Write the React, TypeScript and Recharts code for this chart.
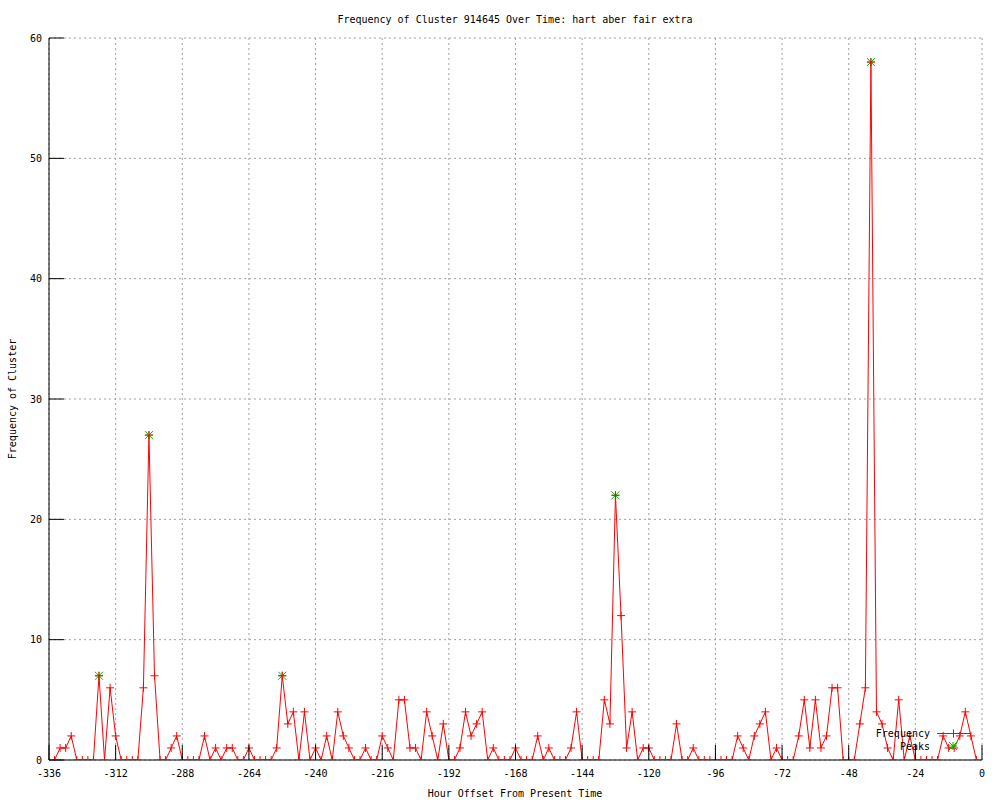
import { ComposedChart, Line, XAxis, YAxis, CartesianGrid, Legend } from "recharts";

// hour offsets of the 2-hour bins
const hourOffsets = [
  -334, -332, -330, -328, -326, -324, -322, -320, -318, -316, -314, -312,
  -310, -308, -306, -304, -302, -300, -298, -296, -294, -292, -290, -288,
  -286, -284, -282, -280, -278, -276, -274, -272, -270, -268, -266, -264,
  -262, -260, -258, -256, -254, -252, -250, -248, -246, -244, -242, -240,
  -238, -236, -234, -232, -230, -228, -226, -224, -222, -220, -218, -216,
  -214, -212, -210, -208, -206, -204, -202, -200, -198, -196, -194, -192,
  -190, -188, -186, -184, -182, -180, -178, -176, -174, -172, -170, -168,
  -166, -164, -162, -160, -158, -156, -154, -152, -150, -148, -146, -144,
  -142, -140, -138, -136, -134, -132, -130, -128, -126, -124, -122, -120,
  -118, -116, -114, -112, -110, -108, -106, -104, -102, -100, -98, -96,
  -94, -92, -90, -88, -86, -84, -82, -80, -78, -76, -74, -72,
  -70, -68, -66, -64, -62, -60, -58, -56, -54, -52, -50, -48,
  -46, -44, -42, -40, -38, -36, -34, -32, -30, -28, -26, -24,
  -22, -20, -18, -16, -14, -12, -10, -8, -6, -4, -2,
];

const frequencies = [
  0, 1, 1, 2, 0, 0, 0, 0, 7, 0, 6, 2,
  0, 0, 0, 0, 6, 27, 7, 0, 0, 1, 2, 0,
  0, 0, 0, 2, 0, 1, 0, 1, 1, 0, 0, 1,
  0, 0, 0, 0, 1, 7, 3, 4, 0, 4, 0, 1,
  0, 2, 0, 4, 2, 1, 0, 0, 1, 0, 0, 2,
  1, 0, 5, 5, 1, 1, 0, 4, 2, 0, 3, 0,
  0, 1, 4, 2, 3, 4, 0, 1, 0, 0, 0, 1,
  0, 0, 0, 2, 0, 1, 0, 0, 0, 1, 4, 0,
  0, 0, 0, 5, 3, 22, 12, 1, 4, 0, 1, 1,
  0, 0, 0, 0, 3, 0, 0, 1, 0, 0, 0, 0,
  0, 0, 0, 2, 1, 0, 2, 3, 4, 0, 1, 0,
  0, 0, 2, 5, 1, 5, 1, 2, 6, 6, 0, 0,
  0, 3, 6, 58, 4, 3, 1, 0, 5, 0, 2, 0,
  0, 0, 0, 0, 2, 1, 1, 2, 4, 2, 0,
];

const peakHours = [-318, -300, -252, -132, -40];
const peakValues = [7, 27, 7, 22, 58];

const xTicks = [-336, -312, -288, -264, -240, -216, -192, -168, -144, -120, -96, -72, -48, -24, 0];
const yTicks = [0, 10, 20, 30, 40, 50, 60];
const seriesNames = ["Frequency", "Peaks"];

const FONT = "'DejaVu Sans Mono', monospace";
const RED = "#ff0000";
const GREEN = "#00c000";
const TICK = 15;

const freqData = hourOffsets.map((hour, i) => ({ hour, value: frequencies[i] }));
const peakData = peakHours.map((hour, i) => ({ hour, value: peakValues[i] }));

const plusPath = (x: number, y: number, r = 4) =>
  `M${x - r},${y}H${x + r}M${x},${y - r}V${y + r}`;
const crossPath = (x: number, y: number, r = 4) =>
  `M${x - r},${y - r}L${x + r},${y + r}M${x - r},${y + r}L${x + r},${y - r}`;

const PlusDot = (props: any) => {
  const { cx, cy, index } = props;
  if (cx == null || cy == null) return null;
  return <path key={`f-${index}`} d={plusPath(cx, cy)} stroke={RED} strokeWidth={1} fill="none" />;
};

const StarDot = (props: any) => {
  const { cx, cy, index } = props;
  if (cx == null || cy == null) return null;
  return (
    <path
      key={`p-${index}`}
      d={plusPath(cx, cy) + crossPath(cx, cy)}
      stroke={GREEN}
      strokeWidth={1}
      fill="none"
    />
  );
};

const BottomTick = ({ x, y, payload }: any) => (
  <g>
    <line x1={x} y1={y} x2={x} y2={y - TICK} stroke="#000" />
    <text x={x} y={y + 17} textAnchor="middle" fontFamily={FONT} fontSize={10} fill="#000">
      {payload.value}
    </text>
  </g>
);

const TopTick = ({ x, y }: any) => <line x1={x} y1={y} x2={x} y2={y + TICK} stroke="#000" />;

const LeftTick = ({ x, y, payload }: any) => (
  <g>
    <line x1={x} y1={y} x2={x + TICK} y2={y} stroke="#000" />
    <text x={x - 7} y={y + 3.6} textAnchor="end" fontFamily={FONT} fontSize={10} fill="#000">
      {payload.value}
    </text>
  </g>
);

const RightTick = ({ x, y }: any) => <line x1={x} y1={y} x2={x - TICK} y2={y} stroke="#000" />;

const KeyBox = () => (
  <svg width={120} height={40} style={{ display: "block", overflow: "visible" }}>
    <text x={62} y={17} textAnchor="end" fontFamily={FONT} fontSize={10} fill="#000">
      {seriesNames[0]}
    </text>
    <line x1={69} y1={13.5} x2={102} y2={13.5} stroke={RED} />
    <path d={plusPath(85.5, 13.5)} stroke={RED} fill="none" />
    <text x={62} y={29.6} textAnchor="end" fontFamily={FONT} fontSize={10} fill="#000">
      {seriesNames[1]}
    </text>
    <path d={plusPath(85, 26) + crossPath(85, 26)} stroke={GREEN} fill="none" />
  </svg>
);

export default function App() {
  return (
    <div style={{ background: "#fff", width: 1000, height: 800 }}>
      <style>{"body{margin:0}"}</style>
      <ComposedChart
        width={1000}
        height={800}
        data={freqData}
        margin={{ top: 38, right: 18, bottom: 0, left: 0 }}
      >
        <CartesianGrid stroke="#a0a0a0" strokeDasharray="2 3" />
        <XAxis
          dataKey="hour"
          type="number"
          domain={[-336, 0]}
          ticks={xTicks}
          allowDataOverflow
          height={40}
          tickSize={0}
          tickMargin={0}
          tick={BottomTick}
          axisLine={{ stroke: "#000" }}
          interval={0}
        />
        <XAxis
          xAxisId="top"
          orientation="top"
          type="number"
          domain={[-336, 0]}
          ticks={xTicks}
          allowDataOverflow
          height={0}
          tickSize={0}
          tickMargin={0}
          tick={TopTick}
          axisLine={{ stroke: "#000" }}
          interval={0}
        />
        <YAxis
          type="number"
          domain={[0, 60]}
          ticks={yTicks}
          allowDataOverflow
          width={49}
          tickSize={0}
          tickMargin={0}
          tick={LeftTick}
          axisLine={{ stroke: "#000" }}
          interval={0}
        />
        <YAxis
          yAxisId="right"
          orientation="right"
          type="number"
          domain={[0, 60]}
          ticks={yTicks}
          allowDataOverflow
          width={0}
          tickSize={0}
          tickMargin={0}
          tick={RightTick}
          axisLine={{ stroke: "#000" }}
          interval={0}
        />
        <Line
          data={peakData}
          dataKey="value"
          name={seriesNames[1]}
          stroke="none"
          dot={StarDot}
          activeDot={false}
          isAnimationActive={false}
        />
        <Line
          type="linear"
          dataKey="value"
          name={seriesNames[0]}
          stroke={RED}
          strokeWidth={1}
          dot={PlusDot}
          activeDot={false}
          isAnimationActive={false}
        />
        <Legend
          layout="horizontal"
          verticalAlign="middle"
          align="center"
          content={KeyBox}
          wrapperStyle={{ left: 868, top: 720, width: 120, height: 40 }}
        />
        <text x={515} y={22.5} textAnchor="middle" fontFamily={FONT} fontSize={10} fill="#000">
          Frequency of Cluster 914645 Over Time: hart aber fair extra
        </text>
        <text x={515} y={797} textAnchor="middle" fontFamily={FONT} fontSize={10} fill="#000">
          Hour Offset From Present Time
        </text>
        <text
          x={16}
          y={399}
          textAnchor="middle"
          fontFamily={FONT}
          fontSize={10}
          fill="#000"
          transform="rotate(-90 16 399)"
        >
          Frequency of Cluster
        </text>
      </ComposedChart>
    </div>
  );
}
